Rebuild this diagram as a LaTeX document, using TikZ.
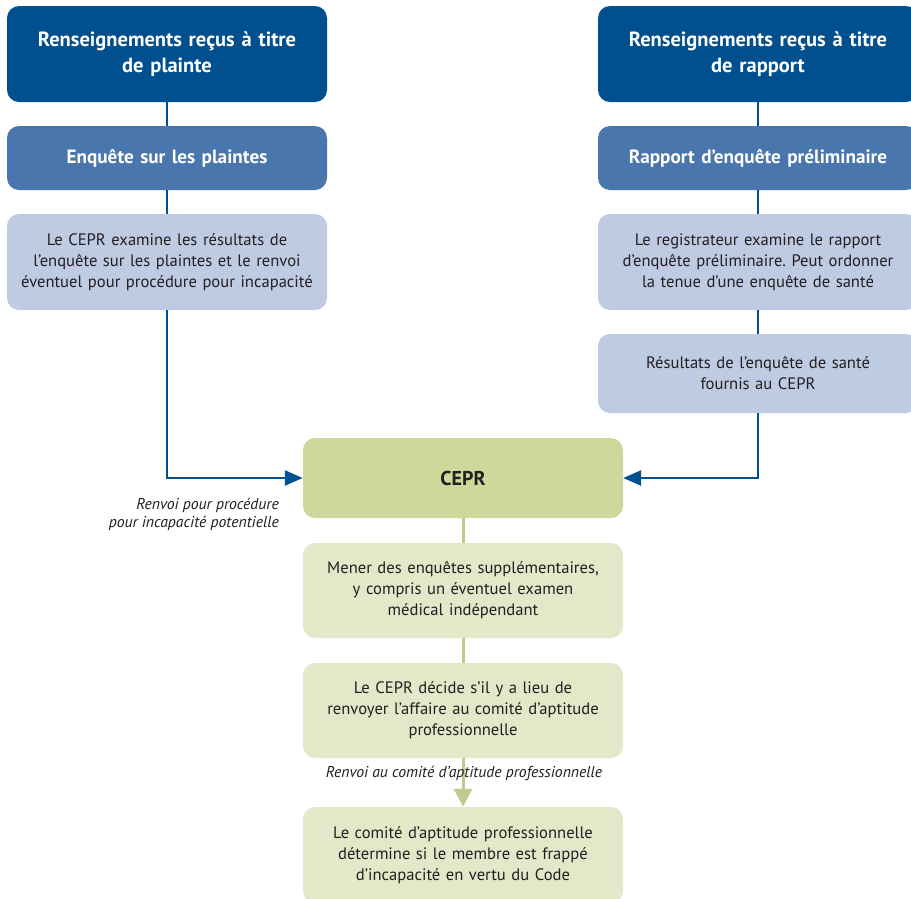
\documentclass[tikz,border=0pt]{standalone}
\usepackage{fontspec}
\setmainfont{PT Sans}
\usetikzlibrary{arrows.meta}
\frenchspacing
\definecolor{darkblue}{HTML}{00508F}
\definecolor{midblue}{HTML}{4A76AE}
\definecolor{paleblue}{HTML}{BFCAE3}
\definecolor{cepgreen}{HTML}{CDD89A}
\definecolor{palegreen}{HTML}{E3E8C8}
\definecolor{linegreen}{HTML}{C3C98E}
\definecolor{ink}{HTML}{231F20}
\tikzset{
  card/.style={rounded corners=12pt, minimum width=320pt, align=center, inner sep=0pt, text width=310pt},
  headbox/.style={card, fill=darkblue, text=white, font=\fontsize{20.5}{26}\selectfont\bfseries},
  subbox/.style={card, fill=midblue, text=white, font=\fontsize{19.2}{24}\selectfont\bfseries},
  notebox/.style={card, fill=paleblue, text=ink, font=\fontsize{16.6}{21}\selectfont},
  cepbox/.style={card, fill=cepgreen, text=ink, font=\fontsize{20}{24}\selectfont\bfseries},
  greenbox/.style={card, fill=palegreen, text=ink, font=\fontsize{16.6}{21}\selectfont},
  blueline/.style={draw=darkblue, line width=2.5pt},
  greenline/.style={draw=linegreen, line width=3pt},
  caption/.style={text=ink, font=\fontsize{15.7}{18}\selectfont\itshape, inner sep=0pt}
}
\begin{document}
\begin{tikzpicture}[x=1pt,y=-1pt]
\useasboundingbox (0,0) rectangle (911,898);
\clip (0,0) rectangle (911,898);
\fill[white] (0,0) rectangle (911,898);

% left column: complaints
\node[headbox, minimum height=96pt] (l1) at (167,54) {Renseignements reçus à titre\\de plainte};
\node[subbox, minimum height=64pt] (l2) at (167,158) {Enquête sur les plaintes};
\node[notebox, minimum height=96pt] (l3) at (167,262) {Le CEPR examine les résultats de\\l’enquête sur les plaintes et le renvoi\\éventuel pour procédure pour incapacité};

% right column: reports
\node[headbox, minimum height=96pt] (r1) at (758,54) {Renseignements reçus à titre\\de rapport};
\node[subbox, minimum height=64pt] (r2) at (758,158) {Rapport d’enquête préliminaire};
\node[notebox, minimum height=96pt] (r3) at (758,262) {Le registrateur examine le rapport\\d’enquête préliminaire. Peut ordonner\\la tenue d’une enquête de santé};
\node[notebox, minimum height=79pt] (r4) at (758,373.5) {Résultats de l’enquête de santé\\fournis au CEPR};

% central column
\node[cepbox, minimum height=80pt] (cepr) at (463,478) {CEPR};
\node[greenbox, minimum height=95pt] (g1) at (463,590.5) {Mener des enquêtes supplémentaires,\\y compris un éventuel examen\\médical indépendant};
\node[greenbox, minimum height=95pt] (g2) at (463,710.5) {Le CEPR décide s’il y a lieu de\\renvoyer l’affaire au comité d’aptitude\\professionnelle};
\node[greenbox, minimum height=96pt] (g3) at (463,855) {Le comité d’aptitude professionnelle\\détermine si le membre est frappé\\d’incapacité en vertu du Code};

% connectors
\draw[blueline] (l1) -- (l2);
\draw[blueline] (l2) -- (l3);
\draw[blueline] (r1) -- (r2);
\draw[blueline] (r2) -- (r3);
\draw[blueline] (r3) -- (r4);
\draw[blueline, -{Triangle[length=18pt,width=15pt]}] (l3.south) |- (cepr.west);
\draw[blueline, -{Triangle[length=18pt,width=15pt]}] (r4.south) |- (cepr.east);
\draw[greenline] (cepr) -- (g1);
\draw[greenline] (g1) -- (g2);
\draw[greenline, -{Triangle[length=18pt,width=18pt]}] (g2) -- (g3);

% captions
\node[caption, anchor=east, align=right] (capl) at (279,514) {Renvoi pour procédure\\pour incapacité potentielle};
\node[caption] (capb) at (464,773) {Renvoi au comité d’aptitude professionnelle};
\end{tikzpicture}
\end{document}
